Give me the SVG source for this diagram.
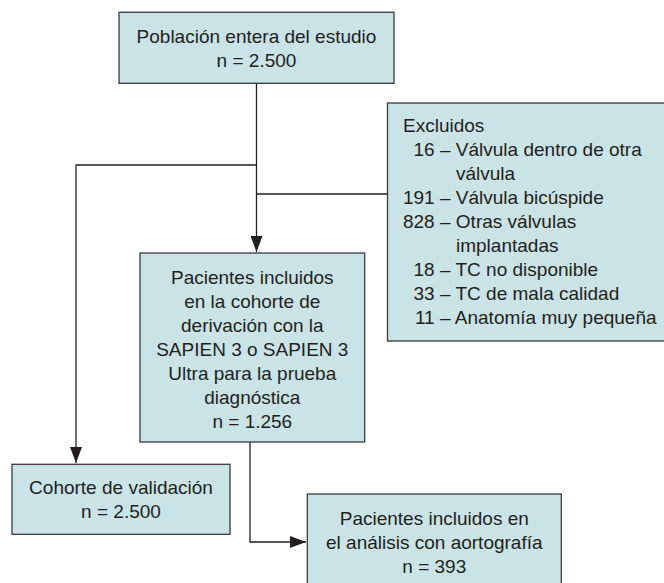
<svg xmlns="http://www.w3.org/2000/svg" width="664" height="583" viewBox="0 0 664 583">
<defs>
<style>
.box{fill:#c9e3e6;stroke:#3a3a3a;stroke-width:1.3}
.t{font-family:"Liberation Sans",Arial,sans-serif;font-size:19px;fill:#231f20}
.c{text-anchor:middle}
.e{text-anchor:end}
.ln{fill:none;stroke:#231f20;stroke-width:1.3}
</style>
<marker id="ah" markerUnits="userSpaceOnUse" markerWidth="16" markerHeight="12" refX="16" refY="6" orient="auto">
<path d="M0,0 L16,6 L0,12 Z" fill="#231f20"/>
</marker>
</defs>
<rect width="664" height="583" fill="#ffffff"/>
<g id="connectors">
<path class="ln" d="M256.5,83 V252" marker-end="url(#ah)"/>
<path class="ln" d="M256.5,165 H76 V463" marker-end="url(#ah)"/>
<path class="ln" d="M256.5,194 H387"/>
<path class="ln" d="M250,442 V542 H306" marker-end="url(#ah)"/>
</g>
<g id="poblacion">
<rect class="box" x="119" y="12.3" width="275" height="71"/>
<text class="t c" x="256.5" y="43">Población entera del estudio</text>
<text class="t c" x="256.5" y="67">n = 2.500</text>
</g>
<g id="excluidos">
<rect class="box" x="387.5" y="103" width="290" height="238"/>
<text class="t" x="403" y="132">Excluidos</text>
<text class="t e" x="434.7" y="156">16</text><text class="t" x="440" y="156">– Válvula dentro de otra</text>
<text class="t" x="456" y="180">válvula</text>
<text class="t e" x="434.7" y="204">191</text><text class="t" x="440" y="204">– Válvula bicúspide</text>
<text class="t e" x="434.7" y="228">828</text><text class="t" x="440" y="228">– Otras válvulas</text>
<text class="t" x="456" y="252">implantadas</text>
<text class="t e" x="434.7" y="276">18</text><text class="t" x="440" y="276">– TC no disponible</text>
<text class="t e" x="434.7" y="300">33</text><text class="t" x="440" y="300">– TC de mala calidad</text>
<text class="t e" x="434.7" y="324">11</text><text class="t" x="440" y="324">– Anatomía muy pequeña</text>
</g>
<g id="derivacion">
<rect class="box" x="140" y="253" width="224.7" height="189"/>
<text class="t c" x="252.3" y="284">Pacientes incluidos</text>
<text class="t c" x="252.3" y="308">en la cohorte de</text>
<text class="t c" x="252.3" y="332">derivación con la</text>
<text class="t c" x="252.3" y="356">SAPIEN 3 o SAPIEN 3</text>
<text class="t c" x="252.3" y="380">Ultra para la prueba</text>
<text class="t c" x="252.3" y="404">diagnóstica</text>
<text class="t c" x="252.3" y="428">n = 1.256</text>
</g>
<g id="validacion">
<rect class="box" x="12" y="464.3" width="218" height="70"/>
<text class="t c" x="121" y="494">Cohorte de validación</text>
<text class="t c" x="121" y="518">n = 2.500</text>
</g>
<g id="aortografia">
<rect class="box" x="307.3" y="494" width="254" height="110"/>
<text class="t c" x="434.3" y="525">Pacientes incluidos en</text>
<text class="t c" x="434.3" y="549">el análisis con aortografía</text>
<text class="t c" x="434.3" y="573">n = 393</text>
</g>
</svg>
